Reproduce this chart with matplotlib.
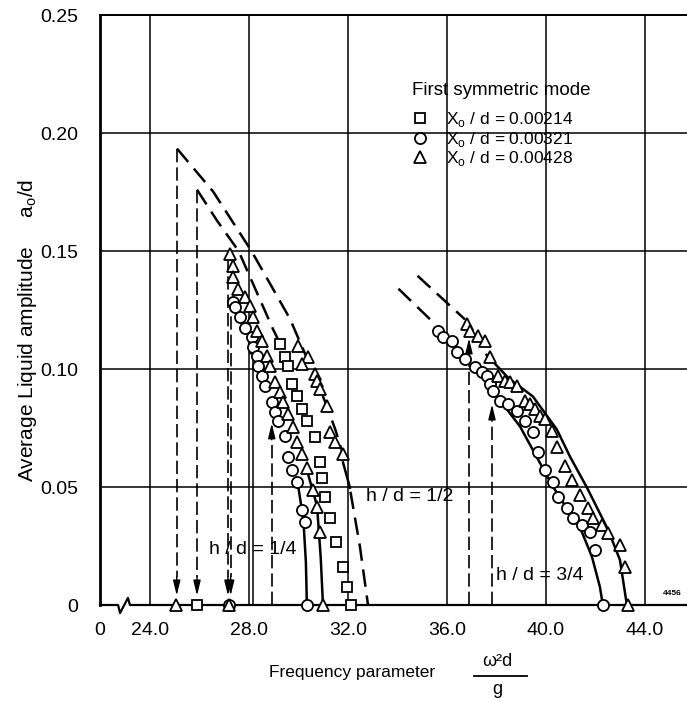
import matplotlib
matplotlib.use('Agg')
import matplotlib.pyplot as plt
from matplotlib.lines import Line2D

plt.rcParams['font.family'] = ['Liberation Sans', 'DejaVu Sans']
plt.rcParams['mathtext.fontset'] = 'custom'
plt.rcParams['mathtext.rm'] = 'Liberation Sans'

# ---------------- data ----------------
x_ticks = [24.0, 28.0, 32.0, 36.0, 40.0, 44.0]
x_tick_labels = ['24.0', '28.0', '32.0', '36.0', '40.0', '44.0']
y_ticks = [0.0, 0.05, 0.10, 0.15, 0.20, 0.25]
y_tick_labels = ['0', '0.05', '0.10', '0.15', '0.20', '0.25']

legend_labels = ['X$_\\mathrm{o}$ / d = 0.00214', 'X$_\\mathrm{o}$ / d = 0.00321',
                 'X$_\\mathrm{o}$ / d = 0.00428']

# squares, X0/d = 0.00214
sq_x = [25.90, 29.25, 29.45, 29.58, 29.74, 29.94, 30.14, 30.34, 30.67, 30.87,
        30.95, 31.07, 31.27, 31.52, 31.80, 31.96, 32.12]
sq_y = [0.0, 0.1105, 0.1050, 0.1012, 0.0935, 0.0884, 0.0829, 0.0778, 0.0710, 0.0608,
        0.0540, 0.0459, 0.0370, 0.0268, 0.0162, 0.0077, 0.0]

# circles, X0/d = 0.00321
ci_x = [27.19, 27.35, 27.43, 27.64, 27.84, 28.12, 28.16, 28.32, 28.36, 28.53, 28.65,
        28.93, 29.05, 29.17, 29.45, 29.58, 29.74, 29.94, 30.14, 30.26, 30.34,
        35.64, 35.84, 36.20, 36.40, 36.73, 37.13, 37.41, 37.62, 37.74, 37.86, 38.14,
        38.46, 38.83, 39.15, 39.47, 39.68, 39.96, 40.28, 40.48, 40.85, 41.09, 41.45,
        41.78, 41.98, 42.30]
ci_y = [0.0, 0.1284, 0.1263, 0.1220, 0.1173, 0.1135, 0.1093, 0.1054, 0.1012, 0.0969, 0.0927,
        0.0859, 0.0816, 0.0778, 0.0714, 0.0629, 0.0574, 0.0523, 0.0404, 0.0353, 0.0,
        0.1161, 0.1135, 0.1118, 0.1071, 0.1042, 0.1008, 0.0986, 0.0969, 0.0935, 0.0906, 0.0863,
        0.0850, 0.0821, 0.0778, 0.0731, 0.0650, 0.0574, 0.0523, 0.0459, 0.0412, 0.0370, 0.0340,
        0.0310, 0.0234, 0.0]

# triangles, X0/d = 0.00428
tr_x = [25.05, 27.19,
        27.23, 27.35, 27.35, 27.56, 27.84, 28.04, 28.16, 28.32, 28.53, 28.73, 28.85,
        29.05, 29.25, 29.37, 29.58, 29.78, 29.94, 30.14, 30.34, 30.59, 30.75, 30.87, 30.99,
        29.98, 30.38, 30.14, 30.67, 30.75, 30.87, 31.15, 31.27, 31.47, 31.80,
        36.81, 36.93, 37.25, 37.54, 37.74, 38.06, 38.34, 38.55, 38.83, 39.15, 39.35,
        39.56, 39.76, 39.96, 40.24, 40.44, 40.77, 41.05, 41.37, 41.70, 41.90, 42.26,
        42.51, 42.99, 43.19, 43.31]
tr_y = [0.0, 0.0,
        0.1488, 0.1437, 0.1390, 0.1339, 0.1305, 0.1267, 0.1220, 0.1161, 0.1118, 0.1054, 0.1012,
        0.0944, 0.0901, 0.0859, 0.0808, 0.0753, 0.0689, 0.0638, 0.0582, 0.0489, 0.0417, 0.0310, 0.0,
        0.1097, 0.1050, 0.1020, 0.0978, 0.0948, 0.0914, 0.0842, 0.0731, 0.0689, 0.0638,
        0.1190, 0.1161, 0.1139, 0.1118, 0.1050, 0.0969, 0.0948, 0.0944, 0.0927, 0.0863, 0.0850,
        0.0829, 0.0799, 0.0787, 0.0736, 0.0668, 0.0587, 0.0531, 0.0468, 0.0412, 0.0370, 0.0340,
        0.0306, 0.0255, 0.0162, 0.0]

# dashed (theory) curves
dash1_x = [25.09, 26.55, 28.10, 29.13, 29.66, 30.06, 30.70, 31.15, 31.50, 31.80]
dash1_y = [0.1934, 0.1752, 0.1500, 0.1310, 0.1212, 0.1114, 0.0960, 0.0842, 0.0740, 0.0638]
dash1b_x = [32.10, 32.48, 32.81]
dash1b_y = [0.0480, 0.0250, 0.0]
solid1_x = [31.80, 32.08]
solid1_y = [0.0604, 0.0497]
dash2_x = [25.90, 26.70, 27.58, 28.97, 29.20]
dash2_y = [0.1760, 0.1630, 0.1500, 0.1169, 0.1120]
dash3_x = [34.81, 36.73]
dash3_y = [0.1395, 0.1210]
dash4_x = [34.04, 35.52]
dash4_y = [0.1340, 0.1190]

# solid (experimental) curves
sol_ci_l_x = [29.98, 30.20, 30.30, 30.34]
sol_ci_l_y = [0.0510, 0.0360, 0.0180, 0.0]
sol_tr_l_x = [30.40, 30.75, 30.90, 30.99]
sol_tr_l_y = [0.0550, 0.0420, 0.0200, 0.0]
sol_ci_r_x = [37.33, 38.02, 38.95, 40.28, 41.45, 41.86, 42.18, 42.30]
sol_ci_r_y = [0.0991, 0.0884, 0.0757, 0.0502, 0.0310, 0.0204, 0.0077, 0.0]
sol_tr_r_x = [37.60, 38.50, 39.47, 40.44, 40.97, 41.66, 42.51, 42.99, 43.27]
sol_tr_r_y = [0.1060, 0.0960, 0.0884, 0.0744, 0.0629, 0.0497, 0.0319, 0.0191, 0.0]

# jump arrows: (x, top value)
down_jumps_x = [25.08, 25.90, 27.15, 27.26]
down_jumps_top = [0.1934, 0.1760, 0.1470, 0.1300]
up_jumps_x = [28.92, 36.89, 37.82]
up_jumps_top = [0.0770, 0.1130, 0.0850]
up_solid_x = [28.15]
up_solid_top = [0.1130]

XMIN, XMAX = 21.98, 45.70

# ---------------- figure ----------------
fig = plt.figure(figsize=(6.87, 7.02), dpi=100)
ax = fig.add_axes([100/687, 97/702, 587/687, 590/702])
ax.set_xlim(XMIN, XMAX)
ax.set_ylim(0, 0.25)

ax.set_xticks([XMIN] + x_ticks)
ax.set_xticklabels(['0'] + x_tick_labels)
ax.set_yticks(y_ticks)
ax.set_yticklabels(y_tick_labels)
ax.tick_params(length=0, labelsize=14)
ax.tick_params(axis='x', pad=12)
ax.tick_params(axis='y', pad=16)
ax.grid(True, color='black', lw=1.1)
ax.xaxis.get_gridlines()[0].set_visible(False)
ax.yaxis.get_gridlines()[0].set_visible(False)
ax.set_axisbelow(True)

ax.spines['right'].set_visible(False)
ax.spines['bottom'].set_visible(False)
ax.spines['left'].set_linewidth(2.0)
ax.spines['top'].set_linewidth(1.4)

# baseline with axis break
ax.plot([XMIN, 22.71, 22.79, 23.11, 23.19, XMAX], [0, 0, -0.0034, 0.0030, 0, 0],
        color='black', lw=1.6, clip_on=False, zorder=2)

dash_kw = dict(color='black', lw=1.8, dashes=(7, 3.5), zorder=2)
ax.plot(dash1_x, dash1_y, **dash_kw)
ax.plot(dash1b_x, dash1b_y, **dash_kw)
ax.plot(dash2_x, dash2_y, **dash_kw)
ax.plot(dash3_x, dash3_y, **dash_kw)
ax.plot(dash4_x, dash4_y, **dash_kw)
sol_kw = dict(color='black', lw=1.8, zorder=2)
ax.plot(solid1_x, solid1_y, **sol_kw)
ax.plot(sol_ci_l_x, sol_ci_l_y, **sol_kw)
ax.plot(sol_tr_l_x, sol_tr_l_y, **sol_kw)
ax.plot(sol_ci_r_x, sol_ci_r_y, **sol_kw)
ax.plot(sol_tr_r_x, sol_tr_r_y, **sol_kw)

arrow_kw = dict(arrowstyle='-|>,head_length=0.9,head_width=0.22', color='black',
                lw=1.0, mutation_scale=10, shrinkA=0, shrinkB=0)
vdash_kw = dict(color='black', lw=1.2, dashes=(8, 3), zorder=2)
for x, top in zip(down_jumps_x, down_jumps_top):
    ax.plot([x, x], [top, 0.012], **vdash_kw)
    ax.annotate('', xy=(x, 0.004), xytext=(x, 0.012), arrowprops=arrow_kw)
for x, top in zip(up_jumps_x, up_jumps_top):
    ax.plot([x, x], [0, top - 0.007], **vdash_kw)
    ax.annotate('', xy=(x, top), xytext=(x, top - 0.007), arrowprops=arrow_kw)
for x, top in zip(up_solid_x, up_solid_top):
    ax.plot([x, x], [0, top - 0.007], color='black', lw=1.1, zorder=2)
    ax.annotate('', xy=(x, top), xytext=(x, top - 0.007), arrowprops=arrow_kw)

mk_kw = dict(linestyle='none', markerfacecolor='white', markeredgecolor='black',
             markeredgewidth=1.3, zorder=3, clip_on=False)
h_sq, = ax.plot(sq_x, sq_y, marker='s', markersize=7.3, label=legend_labels[0], **mk_kw)
h_ci, = ax.plot(ci_x, ci_y, marker='o', markersize=8.0, label=legend_labels[1], **mk_kw)
h_tr, = ax.plot(tr_x, tr_y, marker='^', markersize=8.3, label=legend_labels[2], **mk_kw)

leg = ax.legend(handles=[h_sq, h_ci, h_tr], title='First symmetric mode',
                loc='upper left', bbox_to_anchor=(0.531, 0.886), frameon=False,
                fontsize=12.5, title_fontsize=13.5, alignment='left',
                handlelength=1.0, handletextpad=1.0, labelspacing=0.02,
                borderpad=0, borderaxespad=0)
leg._legend_box.sep = 8

# annotations
ax.text(28.16, 0.0234, 'h / d = 1/4', ha='center', va='center', fontsize=14)
ax.text(34.50, 0.0459, 'h / d = 1/2', ha='center', va='center', fontsize=14)
ax.text(39.76, 0.0123, 'h / d = 3/4', ha='center', va='center', fontsize=14)
ax.text(44.72, 0.0035, '4456', ha='left', va='bottom', fontsize=6,
        fontweight='bold', clip_on=False)

# axis labels
fig.text(352/687, 1 - 672/702, 'Frequency parameter', ha='center', va='center', fontsize=12.5)
fig.text(497/687, 1 - 661/702, 'ω²d', ha='center', va='center', fontsize=13)
fig.add_artist(Line2D([474/687, 527/687], [1 - 676/702] * 2, color='black', lw=1.3))
fig.text(497/687, 1 - 690/702, 'g', ha='center', va='center', fontsize=13)
fig.text(28/687, 1 - 330/702, 'Average Liquid amplitude     a$_\\mathrm{o}$/d', rotation=90,
         ha='center', va='center', fontsize=15)

fig.savefig('out.png', dpi=100)
